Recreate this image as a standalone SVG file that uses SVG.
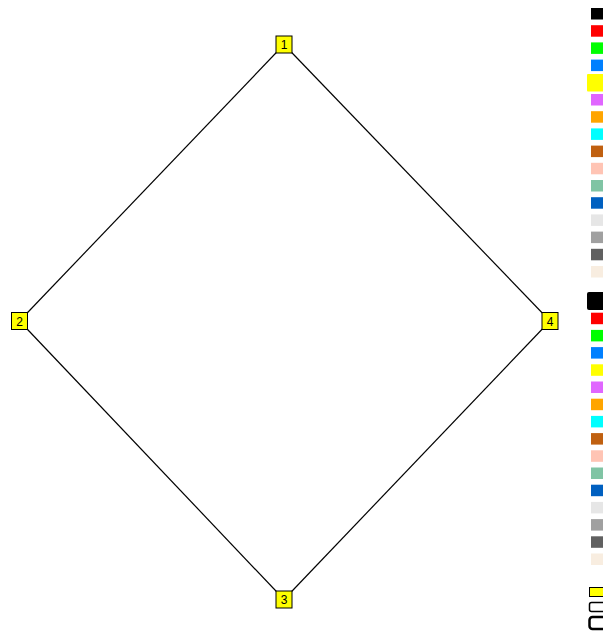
<svg xmlns="http://www.w3.org/2000/svg" width="603" height="639" viewBox="0 0 603 639">
<style>
.node rect{fill:#ffff00;stroke:#000;stroke-width:1}
.node text{font-family:"Liberation Sans",Arial,sans-serif;font-size:12px;fill:#000;text-anchor:middle}
.edge{stroke:#000;stroke-width:1.2;fill:none}
.sw{stroke:none}
</style>
<rect width="603" height="639" fill="#fff"/>
<g id="edges">
<line class="edge" x1="284" y1="44.5" x2="19.5" y2="321"/>
<line class="edge" x1="19.5" y1="321" x2="284" y2="599.5"/>
<line class="edge" x1="284" y1="599.5" x2="550" y2="321"/>
<line class="edge" x1="550" y1="321" x2="284" y2="44.5"/>
</g>
<g id="node1" class="node"><rect x="276" y="36" width="16" height="17"/><text x="284" y="49">1</text></g>
<g id="node2" class="node"><rect x="11.5" y="312.5" width="16" height="17"/><text x="19.5" y="325.5">2</text></g>
<g id="node3" class="node"><rect x="276" y="591" width="16" height="17"/><text x="284" y="604">3</text></g>
<g id="node4" class="node"><rect x="542" y="312.5" width="16" height="17"/><text x="550" y="325.5">4</text></g>
<g id="palette1">
<rect class="sw" x="591" y="8" width="14" height="11.5" fill="#000000"/>
<rect class="sw" x="591" y="25.2" width="14" height="11.5" fill="#ff0000"/>
<rect class="sw" x="591" y="42.4" width="14" height="11.5" fill="#00ff00"/>
<rect class="sw" x="591" y="59.6" width="14" height="11.5" fill="#0080ff"/>
<rect class="sw" x="587" y="74" width="18" height="17.5" rx="1" fill="#ffff00"/>
<rect class="sw" x="591" y="94" width="14" height="11.5" fill="#e066ff"/>
<rect class="sw" x="591" y="111.2" width="14" height="11.5" fill="#ffa500"/>
<rect class="sw" x="591" y="128.4" width="14" height="11.5" fill="#00ffff"/>
<rect class="sw" x="591" y="145.6" width="14" height="11.5" fill="#c06010"/>
<rect class="sw" x="591" y="162.8" width="14" height="11.5" fill="#ffc4b4"/>
<rect class="sw" x="591" y="180" width="14" height="11.5" fill="#80c4a4"/>
<rect class="sw" x="591" y="197.2" width="14" height="11.5" fill="#0060c0"/>
<rect class="sw" x="591" y="214.4" width="14" height="11.5" fill="#e6e6e6"/>
<rect class="sw" x="591" y="231.6" width="14" height="11.5" fill="#a0a0a0"/>
<rect class="sw" x="591" y="248.8" width="14" height="11.5" fill="#606060"/>
<rect class="sw" x="591" y="266" width="14" height="11.5" fill="#f8ede0"/>
</g>
<g id="palette2">
<rect class="sw" x="587" y="292" width="18" height="18" rx="2" fill="#000000"/>
<rect class="sw" x="591" y="312.7" width="14" height="11.5" fill="#ff0000"/>
<rect class="sw" x="591" y="329.9" width="14" height="11.5" fill="#00ff00"/>
<rect class="sw" x="591" y="347.1" width="14" height="11.5" fill="#0080ff"/>
<rect class="sw" x="591" y="364.3" width="14" height="11.5" fill="#ffff00"/>
<rect class="sw" x="591" y="381.5" width="14" height="11.5" fill="#e066ff"/>
<rect class="sw" x="591" y="398.7" width="14" height="11.5" fill="#ffa500"/>
<rect class="sw" x="591" y="415.9" width="14" height="11.5" fill="#00ffff"/>
<rect class="sw" x="591" y="433.1" width="14" height="11.5" fill="#c06010"/>
<rect class="sw" x="591" y="450.3" width="14" height="11.5" fill="#ffc4b4"/>
<rect class="sw" x="591" y="467.5" width="14" height="11.5" fill="#80c4a4"/>
<rect class="sw" x="591" y="484.7" width="14" height="11.5" fill="#0060c0"/>
<rect class="sw" x="591" y="501.9" width="14" height="11.5" fill="#e6e6e6"/>
<rect class="sw" x="591" y="519.1" width="14" height="11.5" fill="#a0a0a0"/>
<rect class="sw" x="591" y="536.3" width="14" height="11.5" fill="#606060"/>
<rect class="sw" x="591" y="553.5" width="14" height="11.5" fill="#f8ede0"/>
</g>
<g id="shapes">
<rect x="589.5" y="587.5" width="16" height="9" fill="#ffff00" stroke="#000" stroke-width="1"/>
<rect x="589.5" y="602.5" width="16" height="9" rx="2" fill="#fff" stroke="#000" stroke-width="1.5"/>
<rect x="589.5" y="617" width="16" height="12" rx="3" fill="#fff" stroke="#000" stroke-width="2.5"/>
</g>
</svg>
